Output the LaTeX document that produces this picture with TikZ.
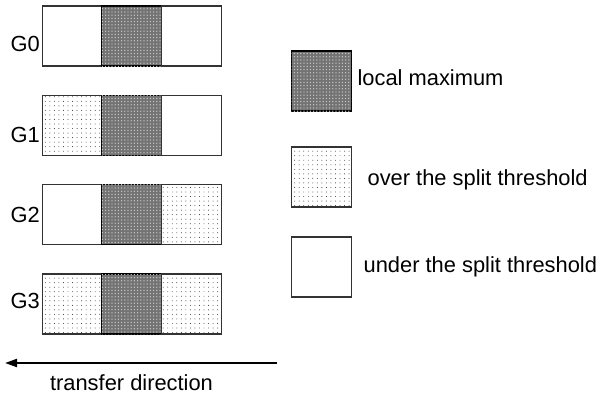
\documentclass[tikz,border=0pt]{standalone}
\usepackage{fontspec}
\setmainfont{Liberation Sans}
\usetikzlibrary{positioning}
\usetikzlibrary{patterns.meta}
\usetikzlibrary{arrows.meta}

\begin{document}
\begin{tikzpicture}[
    x=0.75pt, y=-0.75pt, % one unit is one pixel of the drawing, y runs down
    every node/.style={
        font=\fontsize{16.4}{19}\selectfont % Arial-like text
    },
    cell/.style={
        draw=black!80, % thin outline
        line width=0.8pt,
        minimum width=44.8pt,
        minimum height=45pt,
        inner sep=0pt, outer sep=0pt
    },
    localmax/.style={cell, draw=black, fill=black!55,
        postaction={pattern={Dots[distance=2.4pt, radius=0.55pt]}, pattern color=black!22}},
    over/.style={cell, fill=white,
        postaction={pattern={Dots[distance=3.4pt, radius=0.35pt]}, pattern color=black!85}},
    under/.style={cell, fill=white},
    grouplabel/.style={inner sep=0pt, anchor=base east},
    keylabel/.style={inner sep=0pt, anchor=base west}
]
\useasboundingbox (0,0) rectangle (600,396);

% groups, each is three cells side by side
\foreach \r/\y/\b/\first/\last in {0/36/51/under/under, 1/125.5/142/over/under, 2/214.5/222/under/over, 3/304/308/over/over} {
    \node[\first] (g\r a) at (72,\y) {};
    \node[localmax, right=0pt of g\r a] (g\r b) {};
    \node[\last, right=0pt of g\r b] (g\r c) {};
    \node[grouplabel] (label\r) at ([xshift=-1.5pt]g\r a.west |- 0,\b) {G\r};
}

% legend
\node[localmax] (keylocal) at (321.5,81) {};
\node[over] (keyover) at (321.5,177) {};
\node[under] (keyunder) at (321.5,267) {};
\node[keylabel] (textlocal) at ([xshift=4.5pt]keylocal.east |- 0,85) {local maximum};
\node[keylabel] (textover) at ([xshift=12pt]keyover.east |- 0,185) {over the split threshold};
\node[keylabel] (textunder) at ([xshift=9pt]keyunder.east |- 0,272) {under the split threshold};

% direction of transfer
\coordinate (arrowstart) at (277,363);
\coordinate (arrowend) at (5,363);
\draw[-{Triangle[length=9pt, width=6pt]}, line width=1.5pt] (arrowstart) -- (arrowend);
\node[anchor=base] (transfer) at (131.5,390) {transfer direction};
\end{tikzpicture}
\end{document}
